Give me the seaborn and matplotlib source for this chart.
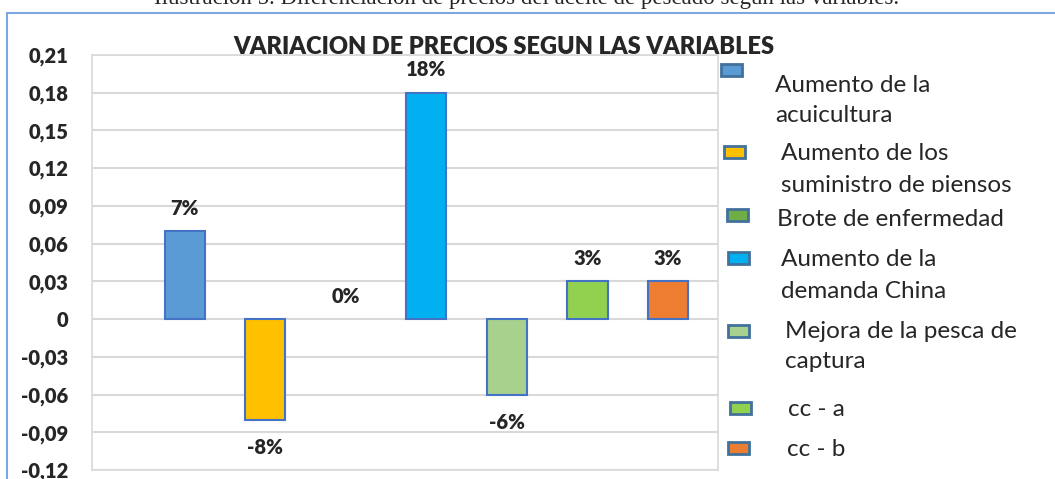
import matplotlib
matplotlib.use("Agg")
import matplotlib.pyplot as plt
import seaborn as sns
from matplotlib.patches import Rectangle
from matplotlib.transforms import Bbox

# data
categories = ["Aumento de la acuicultura", "Aumento de los suministro de piensos",
              "Brote de enfermedad", "Aumento de la demanda China",
              "Mejora de la pesca de captura", "cc - a", "cc - b"]
values = [0.07, -0.08, 0.0, 0.18, -0.06, 0.03, 0.03]
value_labels = ["7%", "-8%", "0%", "18%", "-6%", "3%", "3%"]
colors = ["#5B9BD5", "#FFC000", "#70AD47", "#00B0F0", "#A9D18E", "#92D050", "#ED7D31"]
legend_lines = [["Aumento de la", "acuicultura"],
                ["Aumento de los", "suministro de piensos"],
                ["Brote de enfermedad"],
                ["Aumento de la", "demanda China"],
                ["Mejora de la pesca de", "captura"],
                ["cc - a"],
                ["cc - b"]]
yticks = [-0.12, -0.09, -0.06, -0.03, 0, 0.03, 0.06, 0.09, 0.12, 0.15, 0.18, 0.21]
ytick_labels = ["-0,12", "-0,09", "-0,06", "-0,03", "0", "0,03", "0,06",
                "0,09", "0,12", "0,15", "0,18", "0,21"]
title = "VARIACION DE PRECIOS SEGUN LAS VARIABLES"
caption = "Ilustración 5. Diferenciación de precios del aceite de pescado según las variables."

sns.set_style("white")
plt.rcParams["font.family"] = ["Lato", "DejaVu Sans"]

W, H = 1055, 479
fig = plt.figure(figsize=(W / 100, H / 100), dpi=100)
ax = fig.add_axes([92 / W, 1 - 470 / H, (718 - 92) / W, (470 - 55) / H])

sns.barplot(x=categories, y=values, hue=categories, palette=colors, legend=False,
            width=0.5, saturation=1, edgecolor="#4472C4", linewidth=1.5, ax=ax)
for p in ax.patches:
    if p.get_height() == 0:
        p.set_linewidth(0)

ax.set_xlim(-1.15, 6.62)
ax.set_ylim(-0.12, 0.21)
ax.set_yticks(yticks)
ax.set_yticklabels(ytick_labels, fontsize=14.5, fontweight="heavy")
ax.tick_params(axis="y", length=0, pad=17)
ax.set_xticks([])
ax.set_xlabel("")
ax.set_ylabel("")
ax.grid(axis="y", color="#D9D9D9", linewidth=1.5)
ax.set_axisbelow(True)
for s in ax.spines.values():
    s.set_color("#D9D9D9")
    s.set_linewidth(1.2)

# data labels
for i, (v, lab) in enumerate(zip(values, value_labels)):
    off = 23 if v >= 0 else -28
    ax.annotate(lab, (i, v), xytext=(0, off * 0.72), textcoords="offset points",
                ha="center", va="center", fontsize=14.5, fontweight="heavy")

# title
fig.text(504 / W, 1 - 47 / H, title, ha="center", va="center",
         fontsize=17, fontweight="heavy")

# caption partly cut at the top
fig.text(527 / W, 1 - 4 / H, caption, ha="center", va="baseline",
         fontsize=16.5, family="Liberation Serif")

# outer frame
fig.add_artist(Rectangle((7 / W, -0.1), 1.2, 1.1 - 13 / H, transform=fig.transFigure,
                         fill=False, edgecolor="#7EA6E0", linewidth=1.5))

# legend, drawn by hand
marker_y = [70, 152, 215, 258, 331, 408, 448]
marker_x = [721, 724, 727, 728, 728, 730, 728]
text_x = [775, 781, 777, 781, 785, 788, 787]
text_y = [[85, 115], [153, 185], [219], [260, 292], [332, 362], [410], [450]]
clip = Bbox.from_extents(0, H - 192, W, H)
for i in range(len(categories)):
    fig.add_artist(Rectangle((marker_x[i] / W, 1 - (marker_y[i] + 6) / H), 21 / W, 12 / H,
                             transform=fig.transFigure, facecolor=colors[i],
                             edgecolor="#41719C", linewidth=2))
    for line, ty in zip(legend_lines[i], text_y[i]):
        t = fig.text(text_x[i] / W, 1 - ty / H, line, ha="left", va="center", fontsize=17.5)
        if i == 1:
            t.set_clip_box(clip)
            t.set_clip_on(True)

fig.savefig("out.png", dpi=100)
